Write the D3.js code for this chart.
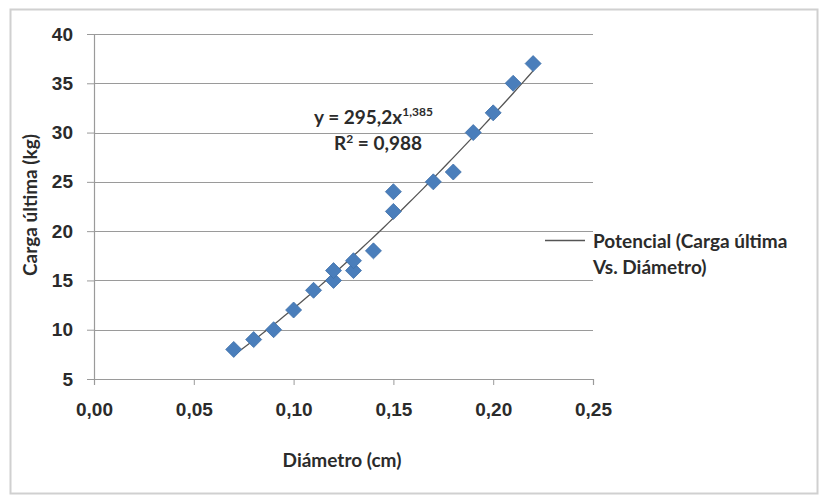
<!DOCTYPE html>
<html>
<head>
<meta charset="utf-8">
<script src="https://cdn.jsdelivr.net/npm/d3@7"></script>
<style>
  body { margin: 0; background: #fff; }
  svg { font-family: Lato, "Open Sans", sans-serif; }
</style>
</head>
<body>
<div id="chart"></div>
<script>
// Data
const diametro = [0.07, 0.08, 0.09, 0.10, 0.11, 0.12, 0.12, 0.13, 0.13, 0.14, 0.15, 0.15, 0.17, 0.18, 0.19, 0.20, 0.21, 0.22];
const carga    = [8, 9, 10, 12, 14, 15, 16, 16, 17, 18, 22, 24, 25, 26, 30, 32, 35, 37];
const xTicks = [0, 0.05, 0.10, 0.15, 0.20, 0.25];
const yTicks = [5, 10, 15, 20, 25, 30, 35, 40];
const fitA = 295.2;
const fitB = 1.385;
const r2 = '0,988';

const width = 820, height = 497;
const margin = { left: 94, right: 227, top: 34, bottom: 118 };
const textColor = '#2b2b2b';
const fs = 19;

const svg = d3.select('#chart').append('svg')
  .attr('width', width)
  .attr('height', height);

// outer chart frame
svg.append('rect')
  .attr('x', 10.5).attr('y', 9.5)
  .attr('width', 807).attr('height', 484)
  .attr('fill', '#fff')
  .attr('stroke', '#d0d0d0')
  .attr('stroke-width', 2);

const x = d3.scaleLinear().domain([0, 0.25]).range([margin.left, width - margin.right]);
const y = d3.scaleLinear().domain([5, 40]).range([height - margin.bottom, margin.top]);

const fmt = d => d3.format('.2f')(d).replace('.', ',');

// horizontal gridlines
svg.append('g')
  .selectAll('line')
  .data(yTicks.filter(d => d > 5))
  .enter().append('line')
  .attr('x1', x(0)).attr('x2', x(0.25))
  .attr('y1', d => Math.round(y(d)) + 0.5)
  .attr('y2', d => Math.round(y(d)) + 0.5)
  .attr('stroke', '#9a9a9a')
  .attr('stroke-width', 1.2);

// y axis
const yAxis = svg.append('g')
  .attr('transform', `translate(${x(0)},0)`)
  .call(d3.axisLeft(y).tickValues(yTicks).tickSize(7).tickPadding(14).tickFormat(d3.format('d')));
yAxis.select('.domain').attr('stroke', '#9a9a9a').attr('stroke-width', 1.2);
yAxis.selectAll('.tick line').attr('stroke', '#9a9a9a');
yAxis.selectAll('text').attr('font-size', fs).attr('fill', textColor).attr('font-weight', 700);

// x axis
const xAxis = svg.append('g')
  .attr('transform', `translate(0,${y(5)})`)
  .call(d3.axisBottom(x).tickValues(xTicks).tickSize(6).tickPadding(18).tickFormat(fmt));
xAxis.select('.domain').attr('stroke', '#9a9a9a').attr('stroke-width', 1.2);
xAxis.selectAll('.tick line').attr('stroke', '#9a9a9a');
xAxis.selectAll('text').attr('font-size', fs).attr('fill', textColor).attr('font-weight', 700);

// axis titles
svg.append('text')
  .attr('x', 342).attr('y', 467)
  .attr('text-anchor', 'middle')
  .attr('font-size', fs).attr('font-weight', 700).attr('fill', textColor)
  .text('Diámetro (cm)');

svg.append('text')
  .attr('transform', 'translate(37,205) rotate(-90)')
  .attr('text-anchor', 'middle')
  .attr('font-size', fs).attr('font-weight', 700).attr('fill', textColor)
  .text('Carga última (kg)');

// power trendline
const fitX = d3.range(0.07, 0.2201, 0.0025);
const line = d3.line()
  .x(d => x(d))
  .y(d => y(fitA * Math.pow(d, fitB)));
svg.append('path')
  .datum(fitX)
  .attr('d', line)
  .attr('fill', 'none')
  .attr('stroke', '#555')
  .attr('stroke-width', 1.3);

// diamonds
svg.append('g')
  .selectAll('path')
  .data(diametro.map((d, i) => ({ d: d, c: carga[i] })))
  .enter().append('path')
  .attr('transform', p => `translate(${x(p.d)},${y(p.c)})`)
  .attr('d', 'M0,-8L8,0L0,8L-8,0Z')
  .attr('fill', '#4a7ebb')
  .attr('stroke', '#3d6ea8')
  .attr('stroke-width', 0.8);

// equation label
const eq = svg.append('text')
  .attr('x', 314).attr('y', 124)
  .attr('font-size', fs).attr('font-weight', 700).attr('fill', textColor);
eq.append('tspan').text('y = ' + String(fitA).replace('.', ',') + 'x');
eq.append('tspan').attr('dy', -8).attr('font-size', 12).text(String(fitB).replace('.', ','));

const rt = svg.append('text')
  .attr('x', 334).attr('y', 150)
  .attr('font-size', fs).attr('font-weight', 700).attr('fill', textColor);
rt.append('tspan').text('R');
rt.append('tspan').attr('dy', -7).attr('font-size', 12).text('2');
rt.append('tspan').attr('dy', 7).text(' = ' + r2);

// legend
svg.append('line')
  .attr('x1', 545).attr('x2', 585)
  .attr('y1', 240.5).attr('y2', 240.5)
  .attr('stroke', '#555').attr('stroke-width', 1.3);
const lg = svg.append('text')
  .attr('x', 593).attr('y', 248)
  .attr('font-size', fs).attr('font-weight', 700).attr('fill', textColor);
lg.append('tspan').text('Potencial (Carga última');
lg.append('tspan').attr('x', 593).attr('dy', 26).text('Vs. Diámetro)');
</script>
</body>
</html>
